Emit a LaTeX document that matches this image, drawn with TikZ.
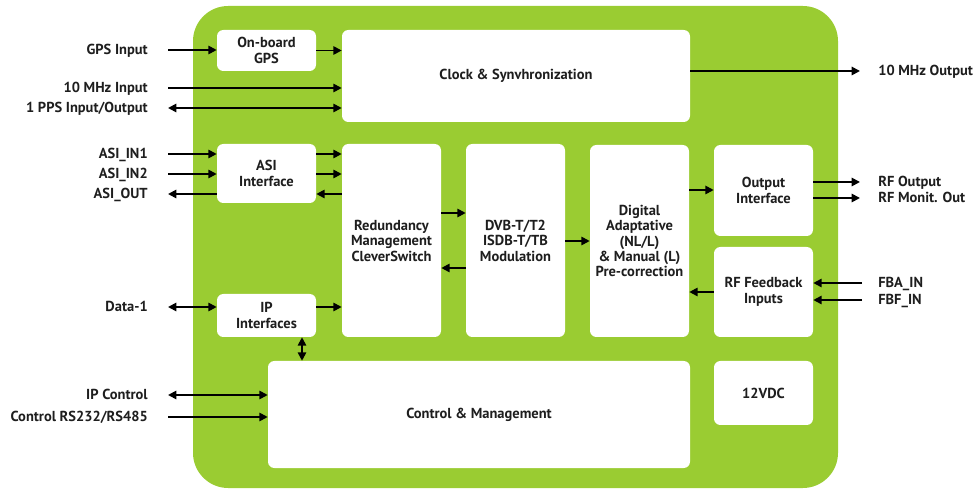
\documentclass[tikz,border=0pt]{standalone}
\usepackage{fontspec}
\setmainfont{PT Sans}
\usetikzlibrary{arrows.meta}
\definecolor{grn}{RGB}{154,204,50}
\definecolor{txt}{RGB}{30,30,30}
\newcommand\blk[6]{\node[box, minimum width={(#4-#2)*0.025cm}, minimum height={(#5-#3)*0.025cm}] (#1) at ({(#2+#4)/2},{(#3+#5)/2}) {#6};}
\begin{document}
\begin{tikzpicture}[x=0.025cm,y=-0.025cm,
  box/.style={fill=white, rounded corners=4.5pt, inner sep=0pt, align=center, text=txt, font=\bfseries\fontsize{10.3}{11}\selectfont},
  arr/.style={line width=1.3pt, -{Triangle[length=6pt,width=6pt]}},
  darr/.style={line width=1.3pt, {Triangle[length=6pt,width=6pt]}-{Triangle[length=6pt,width=6pt]}},
  lbl/.style={font=\bfseries\fontsize{10.3}{11}\selectfont, text=txt, inner sep=0pt}]
\useasboundingbox (0,0) rectangle (978,490);
\fill[grn, rounded corners=25pt] (193,6) rectangle (838,488);
% blocks
\blk{gps}{217}{30}{316}{71}{On-board\\GPS}
\blk{clock}{342}{30}{690}{122}{Clock \& Synvhronization}
\blk{asi}{217}{144}{316}{203}{ASI\\Interface}
\blk{red}{342}{144}{441}{337}{Redundancy\\Management\\CleverSwitch}
\blk{dvb}{466}{144}{565}{337}{DVB-T/T2\\ISDB-T/TB\\Modulation}
\blk{dig}{590}{145}{689}{337}{Digital\\Adaptative\\(NL/L)\\\& Manual (L)\\Pre-correction}
\blk{outif}{714}{145}{813}{236}{Output\\Interface}
\blk{rffb}{714}{247}{813}{337}{RF Feedback\\Inputs}
\blk{ip}{217}{294}{316}{337}{IP\\Interfaces}
\blk{ctrl}{268}{361}{690}{468}{Control \& Management}
\blk{pwr}{714}{361}{813}{425}{12VDC}
% left labels
\node[lbl, anchor=base east] (lgps) at (148,55) {GPS Input};
\node[lbl, anchor=base east] (l10) at (148,93) {10 MHz Input};
\node[lbl, anchor=base east] (lpps) at (148,113) {1 PPS Input/Output};
\node[lbl, anchor=base east] (la1) at (148,159) {ASI\_IN1};
\node[lbl, anchor=base east] (la2) at (148,179) {ASI\_IN2};
\node[lbl, anchor=base east] (lao) at (148,199) {ASI\_OUT};
\node[lbl, anchor=base east] (ld1) at (148,312) {Data-1};
\node[lbl, anchor=base east] (lipc) at (148,400) {IP Control};
\node[lbl, anchor=base east] (lrs) at (148,422) {Control RS232/RS485};
% right labels
\node[lbl, anchor=base west] (lo10) at (878,76) {10 MHz Output};
\node[lbl, anchor=base west] (lrfo) at (878,187) {RF Output};
\node[lbl, anchor=base west] (lrfm) at (878,203) {RF Monit. Out};
\node[lbl, anchor=base west] (lfba) at (878,288) {FBA\_IN};
\node[lbl, anchor=base west] (lfbf) at (878,305) {FBF\_IN};
% coordinates
\coordinate (gpsin) at (168,50);
\coordinate (m10) at (168,88);
\coordinate (pps) at (168,108);
\coordinate (a1) at (168,154);
\coordinate (a2) at (168,174);
\coordinate (ao) at (168,194);
\coordinate (d1) at (168,307);
\coordinate (ipctl) at (168,395);
\coordinate (rs) at (168,417);
\coordinate (o10) at (860,71);
\coordinate (rfo) at (860,182);
\coordinate (rfm) at (860,198);
\coordinate (fba) at (862,283);
\coordinate (fbf) at (862,300);
\coordinate (ipx) at (302,0);
\coordinate (r1) at (0,213);
\coordinate (r2) at (0,268);
\coordinate (r3) at (0,241);
\coordinate (r4) at (0,190);
\coordinate (r5) at (0,292);
% connectors
\draw[arr] (gpsin) -- (gpsin -| gps.west);
\draw[arr] (gps.east) -- (gps.east -| clock.west);
\draw[arr] (m10) -- (m10 -| clock.west);
\draw[darr] (pps) -- (pps -| clock.west);
\draw[arr] (o10 -| clock.east) -- (o10);
\draw[arr] (a1) -- (a1 -| asi.west);
\draw[arr] (a2) -- (a2 -| asi.west);
\draw[arr] (ao -| asi.west) -- (ao);
\draw[arr] (a1 -| asi.east) -- (a1 -| red.west);
\draw[arr] (a2 -| asi.east) -- (a2 -| red.west);
\draw[arr] (ao -| red.west) -- (ao -| asi.east);
\draw[darr] (d1) -- (d1 -| ip.west);
\draw[arr] (d1 -| ip.east) -- (d1 -| red.west);
\draw[darr] (ipx |- ip.south) -- (ipx |- ctrl.north);
\draw[darr] (ipctl) -- (ipctl -| ctrl.west);
\draw[arr] (rs) -- (rs -| ctrl.west);
\draw[arr] (r1 -| red.east) -- (r1 -| dvb.west);
\draw[arr] (r2 -| dvb.west) -- (r2 -| red.east);
\draw[arr] (r3 -| dvb.east) -- (r3 -| dig.west);
\draw[arr] (r4 -| dig.east) -- (r4 -| outif.west);
\draw[arr] (r5 -| rffb.west) -- (r5 -| dig.east);
\draw[arr] (rfo -| outif.east) -- (rfo);
\draw[arr] (rfm -| outif.east) -- (rfm);
\draw[arr] (fba) -- (fba -| rffb.east);
\draw[arr] (fbf) -- (fbf -| rffb.east);
\end{tikzpicture}
\end{document}
